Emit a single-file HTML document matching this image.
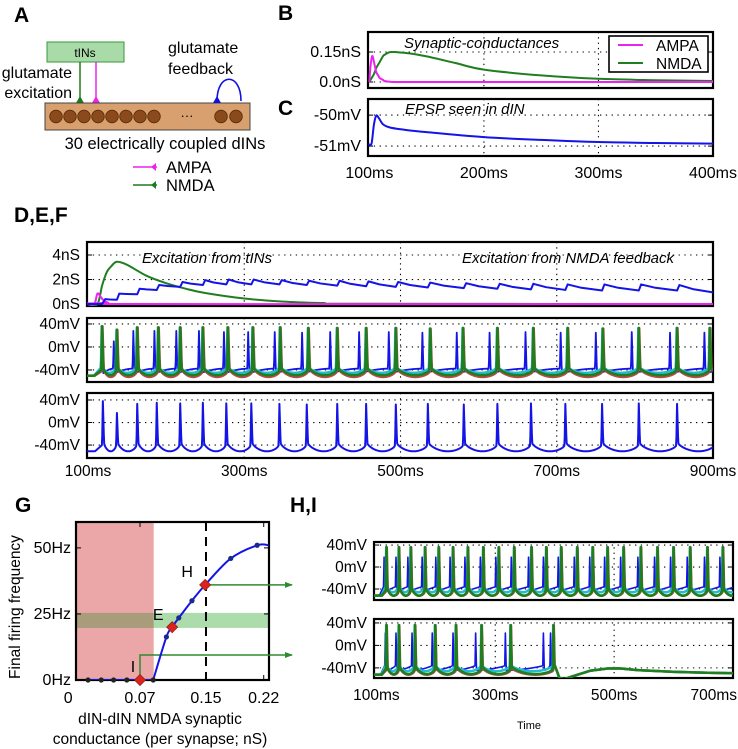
<!DOCTYPE html>
<html><head><meta charset="utf-8"><title>dIN NMDA feedback figure</title>
<style>
html,body{margin:0;padding:0;background:#fff;}
svg{display:block;font-family:"Liberation Sans",sans-serif;}
</style></head>
<body>
<svg id="fig" width="738" height="749" viewBox="0 0 738 749" xmlns="http://www.w3.org/2000/svg">
<defs>
<clipPath id="cB"><rect x="368" y="32" width="345" height="56"/></clipPath>
<clipPath id="cC"><rect x="368" y="99" width="345" height="57"/></clipPath>
<clipPath id="cD1"><rect x="87" y="242" width="626" height="64"/></clipPath>
<clipPath id="cD2"><rect x="87" y="318" width="626" height="64"/></clipPath>
<clipPath id="cD3"><rect x="87" y="393" width="626" height="65"/></clipPath>
<clipPath id="cH"><rect x="374" y="542" width="359" height="58"/></clipPath>
<clipPath id="cI"><rect x="374" y="619" width="359" height="59"/></clipPath>
<clipPath id="cG"><rect x="76" y="522" width="193" height="158"/></clipPath>
<marker id="arrG" markerWidth="8" markerHeight="8" refX="7" refY="4" orient="auto" markerUnits="userSpaceOnUse"><path d="M0,1 L8,4 L0,7 Z" fill="#2e8b2e"/></marker>
</defs>

<!-- Panel letters -->
<text x="14" y="22" font-size="21" font-weight="bold">A</text>
<text x="278" y="20" font-size="21" font-weight="bold">B</text>
<text x="278" y="115" font-size="21" font-weight="bold">C</text>
<text x="14" y="222" font-size="21" font-weight="bold">D,E,F</text>
<text x="15" y="512" font-size="21" font-weight="bold">G</text>
<text x="290" y="512" font-size="21" font-weight="bold">H,I</text>

<!-- Panel A schematic -->
<g>
<rect x="47" y="42" width="77" height="20" fill="#a9dba9" stroke="#3a9a3a" stroke-width="1"/>
<text x="85" y="57" font-size="12" text-anchor="middle">tINs</text>
<line x1="80" y1="62" x2="80" y2="100" stroke="#1e7a1e" stroke-width="1.5"/>
<path d="M76,103 L80,96 L84,103 Z" fill="#1e7a1e"/>
<line x1="96" y1="62" x2="96" y2="100" stroke="#ee22ee" stroke-width="1.5"/>
<path d="M92,103 L96,96 L100,103 Z" fill="#ee22ee"/>
<text x="72" y="78" font-size="16" text-anchor="end">glutamate</text>
<text x="72" y="98" font-size="16" text-anchor="end">excitation</text>
<rect x="45" y="103" width="205" height="27" fill="#d7a06e" stroke="#444" stroke-width="1"/>
<g id="circles"></g>
<text x="187" y="120" font-size="13" text-anchor="middle">···</text>
<path d="M217,101 C217,72 241,72 241,101" fill="none" stroke="#1010e0" stroke-width="1.6"/>
<path d="M213,103 L217,96 L221,103 Z" fill="#1010e0"/>
<text x="168" y="53" font-size="16">glutamate</text>
<text x="168" y="74" font-size="16">feedback</text>
<text x="165" y="149" font-size="16.5" text-anchor="middle">30 electrically coupled dINs</text>
<line x1="133" y1="167" x2="157" y2="167" stroke="#ee22ee" stroke-width="1.5"/>
<path d="M156,163 L151,167 L156,171 Z" fill="#ee22ee"/>
<text x="166" y="173" font-size="16.5">AMPA</text>
<line x1="133" y1="185" x2="157" y2="185" stroke="#1e7a1e" stroke-width="1.5"/>
<path d="M156,181 L151,185 L156,189 Z" fill="#1e7a1e"/>
<text x="166" y="191" font-size="16.5">NMDA</text>
</g>

<g id="plots"></g>

<text x="529" y="729" font-size="11" text-anchor="middle">Time</text>
</svg>

<script>
// ---------- DATA ----------
const bTimes = [100,101,102.5,104,106,108,109,112,113,117,120,122,135,150,175,200,250,300,350,400];
const bAmpa  = [0,0.08,0.13,0.1,0.05,0.03,0.02,0.01,0.005,0.002,0,0,0,0,0,0,0,0,0,0];
const bNmda  = [0,0.01,0.025,0.04,0.07,0.09,0.1,0.13,0.135,0.148,0.15,0.15,0.143,0.128,0.095,0.062,0.033,0.016,0.009,0.005];
const cTimes = [99,100,102,104,106,108,112,118,130,150,200,250,300,350,400];
const cEpsp  = [-50.95,-50.95,-50.9,-50.3,-50.02,-50.08,-50.3,-50.4,-50.47,-50.55,-50.71,-50.8,-50.87,-50.9,-50.92];
const dTimes = [99,112,118,124,130,137,150,175,200,225,250,300,350,400,450,900];
const dNmda  = [0,0,1.5,2.6,3.1,3.45,3.2,2.3,1.7,1.25,0.9,0.45,0.2,0.08,0.02,0];
const dAmpaTimes = [99,108,112,116,120,126,135,900];
const dAmpa  = [0,0,0.85,0.6,0.3,0.1,0,0];
const fSpikes = [119,137,163,188,218,247,277,309,345,380,419,456,494,535,581,624,667,711,758,805,854];
const fPeaks  = [38,17,33,35,34,35,34,34,33,32,33,33,32,33,32,33,34,33,33,34,33];
const fbPeak  = [0.4,0.85,1.25,1.55,1.8,1.95,2.0,2.0,1.95,1.9,1.9,1.85,1.8,1.75,1.7,1.65,1.65,1.6,1.6,1.6,1.55];
const fbTrough= [0.35,0.8,1.15,1.4,1.55,1.6,1.6,1.6,1.55,1.5,1.45,1.4,1.35,1.3,1.25,1.2,1.15,1.1,1.1,1.1,0.95];
const eGreen = [118,137,163,190,218,247,279,311,346,382,419,456,494,538,580,624,670,714,759,805,854,896];
const eGreenPk = [36,30,34,34,34,34,34,34,34,33,33,33,33,32,33,33,33,33,32,33,33,33];
const eBlue  = [118,133,158,185,213,242,274,305,339,374,410,447,485,528,572,614,660,705,750,796,845,889];
const eBluePk= [30,10,28,28,28,28,26,26,26,25,26,26,26,25,25,25,26,25,25,26,25,25];
const hGreen = [117,138,158,182,205,229,254,280,306,332,361,386,411,438,464,489,516,545,573,600,628,657,683];
const hBlue  = [113,133,153,177,200,224,249,275,301,327,356,381,406,433,459,484,511,540,568,595,623,652,678];
const iGreen = [117,138,165,199,234,277,326,398];
const iBlue  = [115,133,160,194,229,267,317,381,393];
const iTailT = [400,408,416,430,460,490,510,540,600,650,700];
const iTailV = [-35,-58,-60,-55,-45,-41,-41,-44,-47,-48.5,-49.5];
const gCond = [0.007,0.023,0.038,0.054,0.07,0.086,0.102,0.109,0.117,0.133,0.149,0.18,0.212,0.226];
const gFreq = [0,0,0,0,0,0,16.3,20,23.5,30,36,46,51,51];
const gMarked = [4,7,10];
const gMarkLabels = ['I','E','H'];
const bYTicks = [0,0.15], bYLabels = ['0.0nS','0.15nS'];
const cYTicks = [-51,-50], cYLabels = ['-51mV','-50mV'];
const bcXTicks = [100,200,300,400], bcXLabels = ['100ms','200ms','300ms','400ms'];
const dYTicks = [0,2,4], dYLabels = ['0nS','2nS','4nS'];
const vTicks = [-40,0,40], vLabels = ['-40mV','0mV','40mV'];
const dXTicks = [100,300,500,700,900], dXLabels = ['100ms','300ms','500ms','700ms','900ms'];
const hXTicks = [100,300,500,700], hXLabels = ['100ms','300ms','500ms','700ms'];
const gXTicks = [-0.017,0.07,0.15,0.22], gXLabels = ['0','0.07','0.15','0.22'];
const gYTicks = [0,25,50], gYLabels = ['0Hz','25Hz','50Hz'];

// ---------- HELPERS ----------
const NS='http://www.w3.org/2000/svg';
const root=document.getElementById('plots');
function mk(tag,attrs,parent){const e=document.createElementNS(NS,tag);for(const k in attrs)e.setAttribute(k,attrs[k]);(parent||root).appendChild(e);return e;}
const BLUE='#1414e6',GREEN='#1f7f1f',PINK='#ee22ee',CYAN='#22bcd0',RED='#c04848';

const circG=document.getElementById('circles');
const circX=[56,70,84,98,112,126,140,154,221,236];
for(const cx of circX){const c=mk('circle',{cx:cx,cy:116.5,r:6.3,fill:'#8b4a1c',stroke:'#5a2a08','stroke-width':0.8},circG);

}

function panel(x0,x1,y0,y1,t0,t1,v0,v1,clip){return {x0,x1,y0,y1,t0,t1,v0,v1,clip,
 sx:t=>x0+(t-t0)*(x1-x0)/(t1-t0), sy:v=>y1-(v-v0)*(y1-y0)/(v1-v0)};}

const P={
 B:panel(368,713,32,88,98.8,400,-0.03,0.25,'cB'),
 C:panel(368,713,99,156,98.8,400,-51.32,-49.48,'cC'),
 D1:panel(87,713,242,306,98.7,900,-0.16,5.06,'cD1'),
 D2:panel(87,713,318,382,98.7,900,-60.9,50.4,'cD2'),
 D3:panel(87,713,393,458,98.7,900,-63,52.4,'cD3'),
 H:panel(374,733,542,600,96,700,-60,45.5,'cH'),
 I:panel(374,733,619,678,96,700,-58,47,'cI'),
 G:panel(76,269,522,680,-0.0076,0.2264,0,59.8,'cG')
};

function axes(p,name,yt,yl,xt,xl,opts){
 opts=opts||{};
 const fs=opts.fs||15.5;
 const g=mk('g',{});
 
 
 yt.forEach((v,i)=>{const y=p.sy(v);
  if(!opts.noHGrid){const l=mk('line',{x1:p.x0,x2:p.x1,y1:y,y2:y,stroke:'#000','stroke-width':1.1,'stroke-dasharray':'1.3,4.5'},g);
  
  }
  const tk=mk('line',{x1:p.x0,x2:p.x0+5,y1:y,y2:y,stroke:'#000','stroke-width':1},g);
  
  
  const tk2=mk('line',{x1:p.x1-5,x2:p.x1,y1:y,y2:y,stroke:'#000','stroke-width':1},g);
  
  
  const t=mk('text',{x:p.x0-(opts.ylpad||7),y:y+5,'font-size':fs,'text-anchor':'end'},g);t.textContent=yl[i];
  
  
 });
 if(xt){xt.forEach((v,i)=>{const x=p.sx(v);
  if(!opts.noVGrid && x>p.x0+3 && x<p.x1-3){const l=mk('line',{x1:x,x2:x,y1:p.y0,y2:p.y1,stroke:'#000','stroke-width':1.1,'stroke-dasharray':'1.3,4'},g);
  
  }
 });}
 if(xl){xt.forEach((v,i)=>{let x=p.sx(v);
  const half=xl[i].length*fs*0.29;let anchor='middle';
  if(x+half>737){x=737;anchor='end';}
  const t=mk('text',{x:x,y:opts.xly,'font-size':fs,'text-anchor':anchor},g);t.textContent=xl[i];
  
  
 });}
 const r=mk('rect',{x:p.x0,y:p.y0,width:p.x1-p.x0,height:p.y1-p.y0,fill:'none',stroke:'#000','stroke-width':2.2},g);
 
 
}

function smooth(pts){let d='M'+pts[0][0].toFixed(2)+','+pts[0][1].toFixed(2);
 for(let i=0;i<pts.length-1;i++){const p0=pts[i-1]||pts[i],p1=pts[i],p2=pts[i+1],p3=pts[i+2]||p2;
  const c1=[p1[0]+(p2[0]-p0[0])/6,p1[1]+(p2[1]-p0[1])/6],c2=[p2[0]-(p3[0]-p1[0])/6,p2[1]-(p3[1]-p1[1])/6];
  d+='C'+c1[0].toFixed(2)+','+c1[1].toFixed(2)+' '+c2[0].toFixed(2)+','+c2[1].toFixed(2)+' '+p2[0].toFixed(2)+','+p2[1].toFixed(2);}
 return d;}
function poly(pts){return 'M'+pts.map(q=>q[0].toFixed(2)+','+q[1].toFixed(2)).join('L');}

function keyCurve(p,ts,vs,color,w,name){
 const pts=ts.map((t,i)=>[p.sx(t),p.sy(vs[i])]);
 const e=mk('path',{d:smooth(pts),fill:'none',stroke:color,'stroke-width':w,'clip-path':'url(#'+p.clip+')','stroke-linejoin':'round'});
 
 
 return e;}

function lerp(a,b,u){return a+(b-a)*Math.max(0,Math.min(1,u));}
function spikeVals(sp,pk,o,tailT,tailV){
 const times=[];for(let t=o.t0;t<=o.t1;t+=0.5)times.push(t);
 sp.forEach(s=>times.push(s));times.sort((a,b)=>a-b);
 const lastP=sp.length>1?sp[sp.length-1]-sp[sp.length-2]:40;
 return times.map(t=>{let v;
  if(t<sp[0]-1){v=t<sp[0]-o.lead?o.rest:lerp(o.rest,o.hi,(t-(sp[0]-o.lead))/(o.lead-1));}
  else{let i=0;while(i+1<sp.length&&sp[i+1]-1<=t)i++;
   const s=sp[i],pkv=pk?(pk[i]!==undefined?pk[i]:pk[pk.length-1]):o.peak;
   if(t<=s)v=lerp(o.hi,pkv,t-(s-1));
   else if(t<=s+1.5)v=lerp(pkv,o.post,(t-s)/1.5);
   else if(i===sp.length-1&&tailT){let k=0;while(k+1<tailT.length&&tailT[k+1]<t)k++;
     v=k+1<tailT.length?lerp(tailV[k],tailV[k+1],(t-tailT[k])/(tailT[k+1]-tailT[k])):tailV[tailV.length-1];}
   else{const nx=i+1<sp.length?sp[i+1]:s+lastP;const a=s+1.5,b=nx-1;const u=Math.max(0,Math.min(1,(t-a)/(b-a)));
    const mid=(o.post+o.hi)/2;v=o.post+(o.hi-o.post)*u-(mid-o.lo)*Math.pow(Math.sin(Math.PI*u),0.6);}
  }
  return [t,v];});
}
function spikeTrace(p,sp,pk,o,color,w,name,tailT,tailV){
 const pts=spikeVals(sp,pk,o,tailT,tailV).map(q=>[p.sx(q[0]),p.sy(q[1])]);
 const e=mk('path',{d:poly(pts),fill:'none',stroke:color,'stroke-width':w,'clip-path':'url(#'+p.clip+')','stroke-linejoin':'round',opacity:o.op||1});
 
 
}
function shift(arr,d){return arr.map(x=>x+d);}

// ---------- PANEL B ----------
axes(P.B,'panel-b-axes',bYTicks,bYLabels,bcXTicks,null,{fs:16});
keyCurve(P.B,bTimes,bNmda,GREEN,2,'nmda-conductance-line');
keyCurve(P.B,bTimes,bAmpa,PINK,2,'ampa-conductance-line');
let t=mk('text',{x:404,y:48,'font-size':15,'font-style':'italic'});t.textContent='Synaptic-conductances';


const lg=mk('g',{});


let e=mk('rect',{x:609,y:36,width:99,height:36,fill:'#fff',stroke:'#000','stroke-width':1.6},lg);


e=mk('line',{x1:618,x2:643,y1:45,y2:45,stroke:PINK,'stroke-width':2},lg);


e=mk('text',{x:656,y:51,'font-size':15.5},lg);e.textContent='AMPA';


e=mk('line',{x1:618,x2:643,y1:63,y2:63,stroke:GREEN,'stroke-width':2},lg);


e=mk('text',{x:656,y:69,'font-size':15.5},lg);e.textContent='NMDA';



// ---------- PANEL C ----------
axes(P.C,'panel-c-axes',cYTicks,cYLabels,bcXTicks,bcXLabels,{xly:178,fs:16});
keyCurve(P.C,cTimes,cEpsp,BLUE,2,'epsp-line');
t=mk('text',{x:405,y:114,'font-size':15,'font-style':'italic'});t.textContent='EPSP seen in dIN';



// ---------- PANEL D (top) ----------
axes(P.D1,'panel-d-axes',dYTicks,dYLabels,dXTicks,null,{});
keyCurve(P.D1,dTimes,dNmda,GREEN,2,'tin-nmda-conductance-line');
keyCurve(P.D1,dAmpaTimes,dAmpa,PINK,2,'tin-ampa-conductance-line');
(function(){const p=P.D1;const pts=[[98.7,0],[fSpikes[0]-1,0]];
 fSpikes.forEach((s,i)=>{const nx=i+1<fSpikes.length?fSpikes[i+1]:900;
  pts.push([s+3,fbPeak[i]]);
  pts.push([s+3+(nx-s-3)*0.4,fbTrough[i]+(fbPeak[i]-fbTrough[i])*0.45]);
  pts.push([nx,fbTrough[i]]);});
 const e=mk('path',{d:poly(pts.map(q=>[p.sx(q[0]),p.sy(q[1])])),fill:'none',stroke:BLUE,'stroke-width':2,'clip-path':'url(#cD1)','stroke-linejoin':'round'});
 
 })();
t=mk('text',{x:142,y:263,'font-size':15,'font-style':'italic'});t.textContent='Excitation from tINs';


t=mk('text',{x:462,y:263,'font-size':15,'font-style':'italic'});t.textContent='Excitation from NMDA feedback';



// ---------- PANEL E ----------
axes(P.D2,'panel-e-axes',vTicks,vLabels,dXTicks,null,{});
const oBase={t0:98.7,t1:900,rest:-50,lead:10};
spikeTrace(P.D2,eBlue,eBluePk,Object.assign({},oBase,{hi:-38,post:-46,lo:-40}),BLUE,1.8,'e-blue-trace');
spikeTrace(P.D2,shift(eGreen,0.5),eGreenPk,Object.assign({},oBase,{hi:-42,post:-38,lo:-52}),RED,2.5,'e-red-trace');
spikeTrace(P.D2,shift(eGreen,-0.5),eGreenPk,Object.assign({},oBase,{hi:-36,post:-35,lo:-45}),CYAN,2.5,'e-cyan-trace');
spikeTrace(P.D2,eGreen,eGreenPk,Object.assign({},oBase,{hi:-40,post:-36,lo:-49}),GREEN,2.6,'e-green-trace');

// ---------- PANEL F ----------
axes(P.D3,'panel-f-axes',vTicks,vLabels,dXTicks,dXLabels,{xly:476});
spikeTrace(P.D3,fSpikes,fPeaks,Object.assign({},oBase,{rest:-51,hi:-40,post:-36,lo:-51}),BLUE,2,'f-single-din-trace');

// ---------- PANEL H ----------
axes(P.H,'panel-h-axes',vTicks,vLabels,hXTicks,null,{});
const hO={t0:96,t1:700,rest:-52,lead:8,peak:36};
spikeTrace(P.H,hBlue,null,Object.assign({},hO,{hi:-36,post:-44,lo:-40,peak:18}),BLUE,1.6,'h-blue-trace');
spikeTrace(P.H,shift(hGreen,0.5),null,Object.assign({},hO,{hi:-44,post:-40,lo:-52}),RED,2.5,'h-red-trace');
spikeTrace(P.H,shift(hGreen,-0.5),null,Object.assign({},hO,{hi:-36,post:-35,lo:-46}),CYAN,2.5,'h-cyan-trace');
spikeTrace(P.H,hGreen,null,Object.assign({},hO,{hi:-42,post:-37,lo:-52}),GREEN,2.6,'h-green-trace');

// ---------- PANEL I ----------
axes(P.I,'panel-i-axes',vTicks,vLabels,hXTicks,hXLabels,{xly:700});
spikeTrace(P.I,iBlue,null,Object.assign({},hO,{hi:-36,post:-44,lo:-42,peak:22}),BLUE,1.6,'i-blue-trace',iTailT,iTailV);
spikeTrace(P.I,shift(iGreen,0.5),null,Object.assign({},hO,{hi:-44,post:-40,lo:-52}),RED,2.5,'i-red-trace',iTailT,iTailV);
spikeTrace(P.I,shift(iGreen,-0.5),null,Object.assign({},hO,{hi:-36,post:-35,lo:-46}),CYAN,2.5,'i-cyan-trace',iTailT,iTailV);
spikeTrace(P.I,iGreen,null,Object.assign({},hO,{hi:-42,post:-37,lo:-51}),GREEN,2.6,'i-green-trace',iTailT,iTailV);

// ---------- PANEL G ----------
(function(){const p=P.G;
 const gx=v=>p.sx(v),gy=f=>p.sy(f);
 const pinkEnd=gx(gCond[5])+0.5;
 let r=mk('rect',{x:p.x0,y:p.y0,width:pinkEnd-p.x0,height:p.y1-p.y0,fill:'#eba7a7'});
 
 
 r=mk('rect',{x:pinkEnd,y:gy(25.4),width:p.x1-pinkEnd,height:gy(19.7)-gy(25.4),fill:'#acdcac'});
 
 
 r=mk('rect',{x:p.x0,y:gy(25.4),width:pinkEnd-p.x0,height:gy(19.7)-gy(25.4),fill:'#a89c7a'});
 
 
 const dl=mk('line',{x1:gx(0.15),x2:gx(0.15),y1:p.y0,y2:p.y1,stroke:'#000','stroke-width':2,'stroke-dasharray':'9,6'});
 
 
 axes(p,'panel-g-axes',gYTicks,gYLabels,gXTicks,gXLabels,{xly:703,noHGrid:true,noVGrid:true,ylpad:5,fs:16});
 gXTicks.forEach(v=>{const x=gx(v);if(x>p.x0+2&&x<p.x1-2){
  let k=mk('line',{x1:x,x2:x,y1:p.y1-5,y2:p.y1,stroke:'#000','stroke-width':1});
  
  
  k=mk('line',{x1:x,x2:x,y1:p.y0,y2:p.y0+5,stroke:'#000','stroke-width':1});
  
  }});
 let a=mk('path',{d:'M'+gx(gCond[10])+','+gy(gFreq[10])+' H292',fill:'none',stroke:'#2e8b2e','stroke-width':1.5,'marker-end':'url(#arrG)'});
 
 
 a=mk('path',{d:'M'+gx(gCond[4])+','+gy(gFreq[4])+' V655 H292',fill:'none',stroke:'#2e8b2e','stroke-width':1.5,'marker-end':'url(#arrG)'});
 
 
 const pts=gCond.map((c,i)=>[gx(c),gy(gFreq[i])]);
 const cv=mk('path',{d:poly(pts.slice(0,6))+smooth(pts.slice(5)).replace('M','L'),fill:'none',stroke:BLUE,'stroke-width':2,'clip-path':'url(#cG)'});
 
 
 gCond.forEach((c,i)=>{if(i===gCond.length-1||gMarked.includes(i))return;
  const d=mk('circle',{cx:gx(c),cy:gy(gFreq[i]),r:2.6,fill:gFreq[i]===0?'#222':'#1a2a8a'});
  
  });
 gMarked.forEach((i,k)=>{const x=gx(gCond[i]),y=gy(gFreq[i]);
  const d=mk('path',{d:`M${x},${y-5.5}L${x+5.5},${y}L${x},${y+5.5}L${x-5.5},${y}Z`,fill:'#e02020',stroke:'#8a2a10','stroke-width':0.8});
  
  
  const off={I:[-7,-8],E:[-14,-7],H:[-18,-8]}[gMarkLabels[k]];
  const t=mk('text',{x:x+off[0],y:y+off[1],'font-size':16,'text-anchor':'middle'});t.textContent=gMarkLabels[k];
  
  });
 let t=mk('text',{x:0,y:0,'font-size':15.5,'text-anchor':'middle',transform:'translate(20,607) rotate(-90)'});t.textContent='Final firing  frequency';
 
 
 t=mk('text',{x:160,y:724,'font-size':15.5,'text-anchor':'middle'});t.textContent='dIN-dIN NMDA synaptic';
 
 
 t=mk('text',{x:160,y:744,'font-size':15.5,'text-anchor':'middle'});t.textContent='conductance (per synapse; nS)';
 
 
})();
</script>
</body></html>
